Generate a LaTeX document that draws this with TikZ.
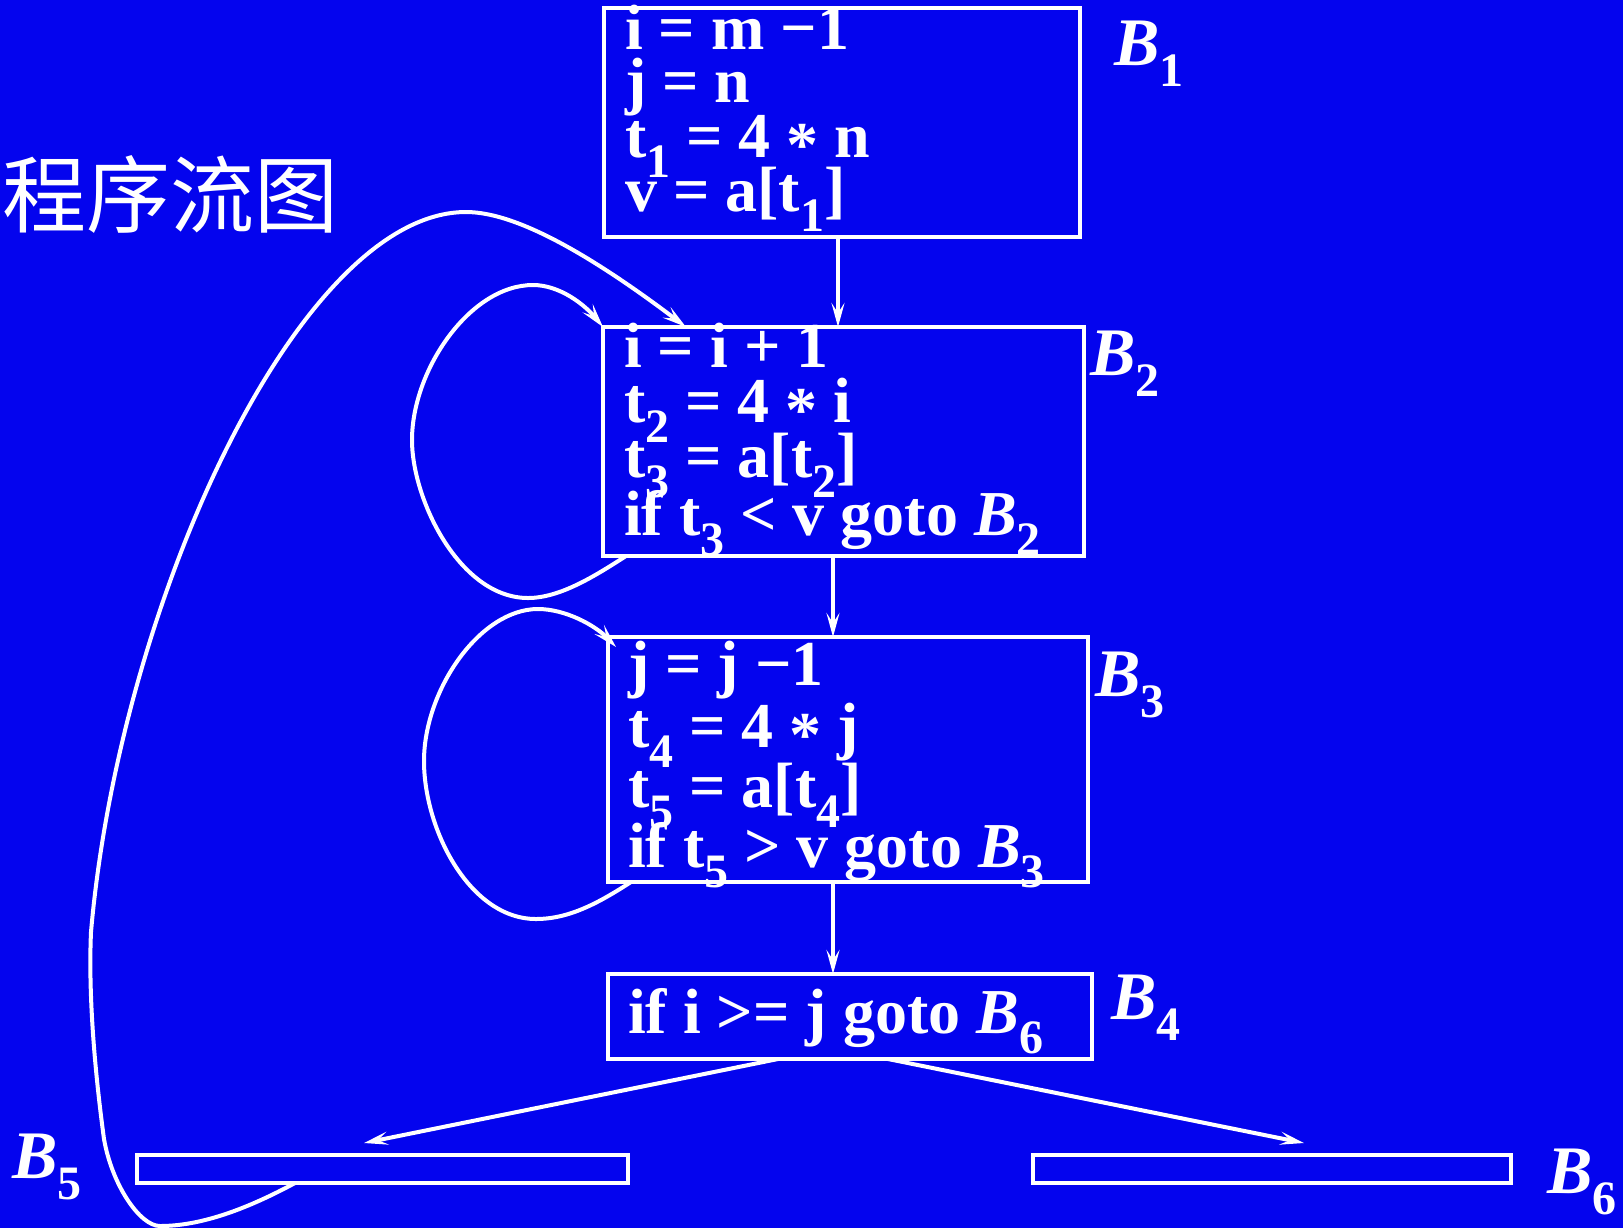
\documentclass[tikz,border=0pt]{standalone}
\usepackage{fontspec}
\setmainfont{Liberation Serif}
\newfontfamily\cjk{Noto Sans CJK SC}
\usetikzlibrary{arrows.meta}
\definecolor{bgblue}{RGB}{4,4,238}
\newcommand\sbs[1]{\raisebox{-0.32em}{\fontsize{24}{24}\selectfont #1}}
\newcommand\BB[1]{\textit{B}\sbs{#1}}
\newcommand\astr{\raisebox{-0.15em}{*}}
\begin{document}
\begin{tikzpicture}[x=0.5pt,y=-0.5pt,
  blk/.style={draw=white,line width=2pt,inner sep=0pt,outer sep=0pt,anchor=center},
  txt/.style={anchor=base west,inner sep=0pt,outer sep=0pt,text=white,font=\fontsize{32}{32}\selectfont\bfseries},
  lbl/.style={anchor=base west,inner sep=0pt,outer sep=0pt,text=white,font=\fontsize{34}{34}\selectfont\bfseries},
  conn/.style={draw=white,line width=2pt,-{Stealth[length=12pt,width=6.5pt,inset=5pt]}}]
\useasboundingbox (0,0) rectangle (1623,1228);
\fill[bgblue] (0,0) rectangle (1623,1228);

% title
\node[anchor=base west,inner sep=0pt,text=white,font=\cjk\fontsize{42}{42}\selectfont] (title) at (2,226) {程序流图};

% blocks
\node[blk,minimum width=238pt,minimum height=114.5pt] (B1) at (842,122.5) {};
\node[blk,minimum width=240.5pt,minimum height=114.5pt] (B2) at (843.5,441.5) {};
\node[blk,minimum width=240pt,minimum height=122.5pt] (B3) at (848,759.5) {};
\node[blk,minimum width=242pt,minimum height=42.5pt] (B4) at (850,1016.5) {};
\node[blk,minimum width=245.5pt,minimum height=14pt] (B5) at (382.5,1169) {};
\node[blk,minimum width=239pt,minimum height=14pt] (B6) at (1272,1169) {};

% block texts
\node[txt] (t11) at (625,49) {i = m −1};
\node[txt] (t12) at (625,102) {j = n};
\node[txt] (t13) at (625,157) {t\sbs{1} = 4 \astr{} n};
\node[txt] (t14) at (625,211) {v = a[t\sbs{1}]};

\node[txt] (t21) at (624,367) {i = i + 1};
\node[txt] (t22) at (624,422) {t\sbs{2} = 4 \astr{} i};
\node[txt] (t23) at (624,477) {t\sbs{3} = a[t\sbs{2}]};
\node[txt] (t24) at (624,535) {if t\sbs{3} < v goto \BB{2}};

\node[txt] (t31) at (628,685) {j = j −1};
\node[txt] (t32) at (628,747) {t\sbs{4} = 4 \astr{} j};
\node[txt] (t33) at (628,807) {t\sbs{5} = a[t\sbs{4}]};
\node[txt] (t34) at (628,867) {if t\sbs{5} > v goto \BB{3}};

\node[txt] (t41) at (628,1033) {if i >= j goto \BB{6}};

% labels
\node[lbl] (L1) at (1114,65) {\BB{1}};
\node[lbl] (L2) at (1090,375) {\BB{2}};
\node[lbl] (L3) at (1095,696) {\BB{3}};
\node[lbl] (L4) at (1111,1019) {\BB{4}};
\node[lbl] (L5) at (12,1178) {\BB{5}};
\node[lbl] (L6) at (1547,1193) {\BB{6}};

% helper coordinates
\coordinate (x1) at (838,0);
\coordinate (x2) at (833,0);
\coordinate (s45) at (778,0);
\coordinate (s46) at (888,0);
\coordinate (e5) at (364,1143);
\coordinate (e6) at (1304,1143);
\coordinate (l2) at (626,0);
\coordinate (l3) at (631,0);
\coordinate (e3) at (616,647);
\coordinate (b5x) at (295,0);
\coordinate (e2x) at (686,0);

% straight connectors
\draw[conn] (B1.south -| x1) -- (B2.north -| x1);
\draw[conn] (B2.south -| x2) -- (B3.north -| x2);
\draw[conn] (B3.south -| x2) -- (B4.north -| x2);
\draw[conn] (B4.south -| s45) -- (e5);
\draw[conn] (B4.south -| s46) -- (e6);

% B2 self loop
\draw[conn] (B2.south -| l2) .. controls (595,576) and (560,598) .. (528,598)
  .. controls (460,598) and (412,500) .. (412,440)
  .. controls (412,370) and (470,285) .. (533,285)
  .. controls (560,285) and (585,305) .. (B2.north west);

% B3 self loop
\draw[conn] (B3.south -| l3) .. controls (600,902) and (570,919) .. (536,919)
  .. controls (470,919) and (424,830) .. (424,761)
  .. controls (424,690) and (480,609) .. (538,609)
  .. controls (565,609) and (595,625) .. (e3);

% B5 back to B2
\draw[conn] (B5.south -| b5x) .. controls (245,1210) and (200,1226) .. (160,1226)
  .. controls (140,1226) and (112,1185) .. (104,1139)
  .. controls (96,1080) and (88,1000) .. (91,932)
  .. controls (120,600) and (300,212) .. (466,212)
  .. controls (520,212) and (600,262) .. (B2.north -| e2x);
\end{tikzpicture}
\end{document}
